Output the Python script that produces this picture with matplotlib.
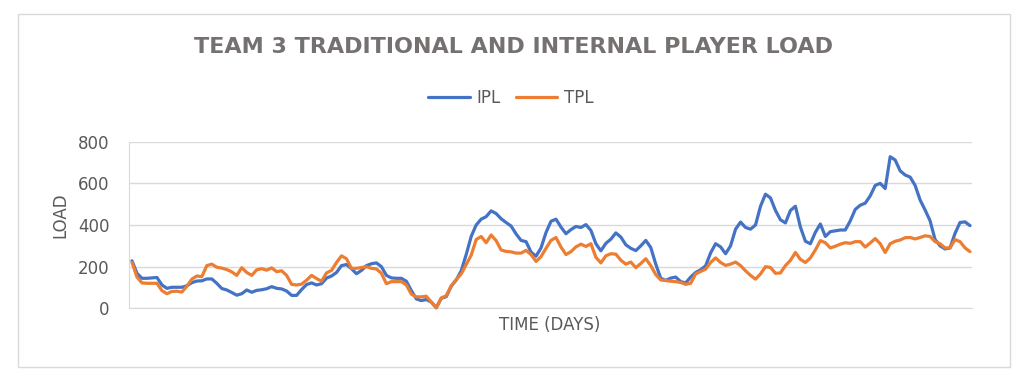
import matplotlib
matplotlib.use("Agg")
import matplotlib.pyplot as plt
from matplotlib.patches import Rectangle

title = "TEAM 3 TRADITIONAL AND INTERNAL PLAYER LOAD"
series_names = ["IPL", "TPL"]
y_ticks = [0, 200, 400, 600, 800]

ipl = [228, 168, 144, 144, 146, 148, 112, 96, 101, 101,
       101, 108, 123, 131, 132, 141, 141, 120, 95, 88,
       76, 63, 70, 88, 77, 86, 89, 94, 104, 96,
       93, 83, 62, 62, 90, 114, 122, 112, 118, 145,
       155, 172, 205, 210, 190, 166, 182, 205, 214, 218,
       200, 158, 146, 144, 144, 130, 85, 45, 37, 42,
       30, 3, 48, 56, 106, 136, 180, 258, 345, 400,
       428, 440, 468, 455, 430, 412, 395, 357, 326, 320,
       270, 250, 290, 364, 418, 428, 390, 358, 378, 393,
       388, 402, 374, 310, 276, 312, 332, 362, 342, 305,
       288, 277, 300, 326, 292, 212, 144, 134, 145, 150,
       128, 122, 150, 172, 185, 204, 266, 310, 295, 262,
       300, 380, 414, 388, 380, 400, 490, 548, 530, 470,
       425, 410, 470, 490, 390, 322, 310, 365, 405, 345,
       368, 372, 376, 376, 420, 475, 495, 505, 540, 590,
       600, 575, 728, 712, 660, 640, 630, 590, 520, 472,
       420, 330, 300, 285, 290, 360, 412, 415, 397]

tpl = [220, 150, 122, 120, 120, 120, 85, 70, 81, 82,
       78, 106, 140, 155, 152, 205, 212, 197, 193, 186,
       175, 158, 195, 172, 158, 185, 190, 183, 194, 176,
       180, 158, 115, 112, 116, 135, 158, 143, 130, 170,
       182, 220, 252, 238, 192, 192, 196, 200, 192, 189,
       168, 118, 128, 128, 128, 112, 68, 55, 55, 58,
       30, 2, 50, 60, 108, 138, 165, 210, 255, 330,
       345, 315, 352, 325, 280, 273, 271, 265, 265, 278,
       258, 225, 248, 288, 326, 340, 294, 258, 272, 295,
       308, 297, 310, 245, 218, 252, 262, 260, 231, 212,
       222, 195, 215, 238, 205, 162, 136, 133, 130, 128,
       124, 115, 120, 165, 177, 188, 220, 242, 220, 206,
       212, 222, 205, 180, 158, 140, 165, 200, 196, 168,
       170, 205, 230, 268, 235, 220, 242, 280, 325, 315,
       290, 298, 308, 315, 312, 320, 320, 294, 314, 335,
       310, 268, 310, 322, 328, 339, 340, 333, 340, 348,
       345, 320, 310, 290, 290, 330, 320, 290, 272]

W, H = 1030, 383
fig = plt.figure(figsize=(W / 100, H / 100), dpi=100)
fig.patches.append(Rectangle((18 / W, (H - 367) / H), (1010 - 18) / W, (367 - 14) / H,
                             transform=fig.transFigure, fill=False,
                             edgecolor="#d9d9d9", linewidth=1))

ax = fig.add_axes([129 / W, (H - 308.3) / H, (972 - 129) / W, (308.3 - 141.7) / H])
days = list(range(len(ipl)))
n = len(ipl)
step = (970 - 132) / (n - 1)
ax.set_xlim(-3 / step, (n - 1) + 2 / step)
ax.set_ylim(0, 800)

l1, = ax.plot(days, ipl, color="#4472C4", linewidth=2.3, solid_capstyle="round",
              solid_joinstyle="round", clip_on=False, zorder=3)
l2, = ax.plot(days, tpl, color="#ED7D31", linewidth=2.3, solid_capstyle="round",
              solid_joinstyle="round", clip_on=False, zorder=4)

ax.set_yticks(y_ticks)
ax.set_yticklabels([str(v) for v in y_ticks])
ax.set_xticks([])
ax.tick_params(axis="y", length=0, pad=14, labelsize=12, labelcolor="#595959")
ax.grid(axis="y", color="#d9d9d9", linewidth=1)
ax.set_axisbelow(True)
for s in ["top", "right"]:
    ax.spines[s].set_visible(False)
ax.spines["left"].set_color("#d9d9d9")
ax.spines["bottom"].set_color("#d9d9d9")

fig.text(60 / W, 1 - 215 / H, "LOAD", rotation=90, ha="center", va="center",
         fontsize=12, color="#595959")
fig.text(550 / W, 1 - 325 / H, "TIME (DAYS)", ha="center", va="center",
         fontsize=12, color="#595959")
fig.text(513 / W, 1 - 47 / H, title, ha="center", va="center",
         fontsize=16, fontweight="bold", color="#767171")

fig.legend([l1, l2], series_names, loc="center", bbox_to_anchor=(511 / W, 1 - 98 / H),
           ncol=2, frameon=False, fontsize=12, handlelength=2.5, columnspacing=0.9,
           handletextpad=0.4, labelcolor="#595959")

fig.savefig("out.png", dpi=100)
